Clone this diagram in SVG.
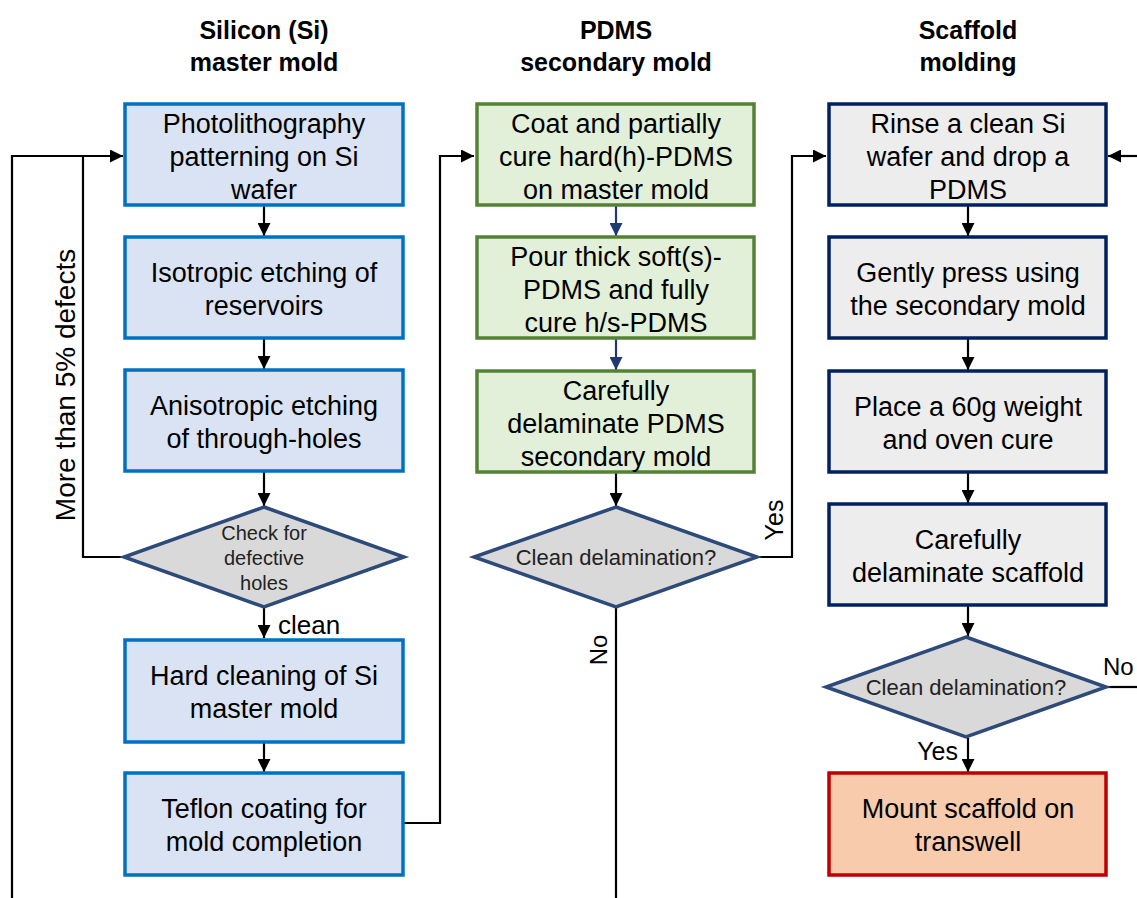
<svg xmlns="http://www.w3.org/2000/svg" width="1137" height="898" viewBox="0 0 1137 898">
  <style>
    text { font-family: "Liberation Sans", Arial, sans-serif; fill: #000; }
    .title { font-size: 25px; font-weight: bold; text-anchor: middle; }
    .lbl { font-size: 27px; text-anchor: middle; }
    .dtxt { font-size: 22px; text-anchor: middle; fill: #222; }
    .dsmall { font-size: 20px; text-anchor: middle; fill: #222; }
    .edge { font-size: 25px; }
    .si { fill: #DAE3F3; stroke: #0070C0; stroke-width: 3.5; }
    .pdms { fill: #E2F0D9; stroke: #548235; stroke-width: 3.5; }
    .scf { fill: #EDEDED; stroke: #002060; stroke-width: 3.5; }
    .end { fill: #F8CBAD; stroke: #C00000; stroke-width: 3.5; }
    .dia { fill: #D9D9D9; stroke: #2E4A7A; stroke-width: 3.5; }
    .conn { fill: none; stroke: #000; stroke-width: 2.2; }
    .conn-navy { fill: none; stroke: #1F3A73; stroke-width: 2.2; }
  </style>
  <defs>
    <marker id="arrow" viewBox="0 0 12 12" refX="12" refY="6" markerWidth="13" markerHeight="13" markerUnits="userSpaceOnUse" orient="auto">
      <path d="M0,0 L12,6 L0,12 Z" fill="#000"/>
    </marker>
    <marker id="arrow-navy" viewBox="0 0 12 12" refX="12" refY="6" markerWidth="13" markerHeight="13" markerUnits="userSpaceOnUse" orient="auto">
      <path d="M0,0 L12,6 L0,12 Z" fill="#1F3A73"/>
    </marker>
  </defs>

  <!-- column headings -->
  <g id="headings">
    <text class="title" x="264" y="39">Silicon (Si)</text>
    <text class="title" x="264" y="71">master mold</text>
    <text class="title" x="616" y="39">PDMS</text>
    <text class="title" x="616" y="71">secondary mold</text>
    <text class="title" x="968" y="39">Scaffold</text>
    <text class="title" x="968" y="71">molding</text>
  </g>

  <!-- connectors -->
  <g id="connectors">
    <!-- column 1 -->
    <line class="conn" x1="264" y1="206" x2="264" y2="236" marker-end="url(#arrow)"/>
    <line class="conn" x1="264" y1="339" x2="264" y2="369" marker-end="url(#arrow)"/>
    <line class="conn" x1="264" y1="472" x2="264" y2="506" marker-end="url(#arrow)"/>
    <line class="conn" x1="264" y1="608" x2="264" y2="638" marker-end="url(#arrow)"/>
    <line class="conn" x1="264" y1="743" x2="264" y2="772" marker-end="url(#arrow)"/>
    <polyline class="conn" points="12,898 12,156 123,156" marker-end="url(#arrow)"/>
    <polyline class="conn" points="124,557 83,557 83,156"/>
    <!-- column 1 to column 2 -->
    <polyline class="conn" points="404,823 440,823 440,156 474,156" marker-end="url(#arrow)"/>
    <!-- column 2 -->
    <line class="conn-navy" x1="616" y1="206" x2="616" y2="236" marker-end="url(#arrow-navy)"/>
    <line class="conn-navy" x1="616" y1="339" x2="616" y2="370" marker-end="url(#arrow-navy)"/>
    <line class="conn" x1="616" y1="473" x2="616" y2="506" marker-end="url(#arrow)"/>
    <line class="conn" x1="616" y1="608" x2="616" y2="898"/>
    <!-- column 2 to column 3 -->
    <polyline class="conn" points="758,557 792,557 792,156 826,156" marker-end="url(#arrow)"/>
    <!-- column 3 -->
    <line class="conn" x1="1137" y1="156" x2="1108" y2="156" marker-end="url(#arrow)"/>
    <line class="conn" x1="968" y1="206" x2="968" y2="236" marker-end="url(#arrow)"/>
    <line class="conn" x1="968" y1="339" x2="968" y2="370" marker-end="url(#arrow)"/>
    <line class="conn" x1="968" y1="473" x2="968" y2="503" marker-end="url(#arrow)"/>
    <line class="conn" x1="968" y1="606" x2="968" y2="636" marker-end="url(#arrow)"/>
    <line class="conn" x1="968" y1="738" x2="968" y2="772" marker-end="url(#arrow)"/>
    <line class="conn" x1="1107" y1="687" x2="1137" y2="687"/>
    <!-- edge labels -->
    <text class="edge" x="75" y="385" text-anchor="middle" style="font-size:28px" transform="rotate(-90 75 385)">More than 5% defects</text>
    <text class="edge" x="278" y="634" style="font-size:26px">clean</text>
    <text class="edge" x="783" y="520" text-anchor="middle" transform="rotate(-90 783 520)">Yes</text>
    <text class="edge" x="607" y="650" text-anchor="middle" style="font-size:24px" transform="rotate(-90 607 650)">No</text>
    <text class="edge" x="1103" y="675" style="font-size:24px">No</text>
    <text class="edge" x="958" y="760" text-anchor="end">Yes</text>
  </g>

  <!-- column 1: silicon master mold -->
  <g id="si-photolithography">
    <rect class="si" x="125" y="104" width="278" height="101"/>
    <text class="lbl" x="264" y="133">Photolithography</text>
    <text class="lbl" x="264" y="166">patterning on Si</text>
    <text class="lbl" x="264" y="199">wafer</text>
  </g>
  <g id="si-isotropic">
    <rect class="si" x="125" y="237" width="278" height="101"/>
    <text class="lbl" x="264" y="282">Isotropic etching of</text>
    <text class="lbl" x="264" y="315">reservoirs</text>
  </g>
  <g id="si-anisotropic">
    <rect class="si" x="125" y="370" width="278" height="101"/>
    <text class="lbl" x="264" y="415">Anisotropic etching</text>
    <text class="lbl" x="264" y="448">of through-holes</text>
  </g>
  <g id="si-check">
    <polygon class="dia" points="264,507 404,557 264,607 124,557"/>
    <text class="dsmall" x="264" y="540">Check for</text>
    <text class="dsmall" x="264" y="565">defective</text>
    <text class="dsmall" x="264" y="590">holes</text>
  </g>
  <g id="si-hard-clean">
    <rect class="si" x="125" y="640" width="278" height="102"/>
    <text class="lbl" x="264" y="685">Hard cleaning of Si</text>
    <text class="lbl" x="264" y="718">master mold</text>
  </g>
  <g id="si-teflon">
    <rect class="si" x="125" y="773" width="278" height="102"/>
    <text class="lbl" x="264" y="818">Teflon coating for</text>
    <text class="lbl" x="264" y="851">mold completion</text>
  </g>

  <!-- column 2: PDMS secondary mold -->
  <g id="pdms-coat">
    <rect class="pdms" x="477" y="104" width="277" height="101"/>
    <text class="lbl" x="616" y="133">Coat and partially</text>
    <text class="lbl" x="616" y="166">cure hard(h)-PDMS</text>
    <text class="lbl" x="616" y="199">on master mold</text>
  </g>
  <g id="pdms-pour">
    <rect class="pdms" x="477" y="237" width="277" height="101"/>
    <text class="lbl" x="616" y="266">Pour thick soft(s)-</text>
    <text class="lbl" x="616" y="299">PDMS and fully</text>
    <text class="lbl" x="616" y="332">cure h/s-PDMS</text>
  </g>
  <g id="pdms-delaminate">
    <rect class="pdms" x="477" y="371" width="277" height="101"/>
    <text class="lbl" x="616" y="400">Carefully</text>
    <text class="lbl" x="616" y="433">delaminate PDMS</text>
    <text class="lbl" x="616" y="466">secondary mold</text>
  </g>
  <g id="pdms-check">
    <polygon class="dia" points="616,507 757,557 616,607 474,557"/>
    <text class="dtxt" x="616" y="565">Clean delamination?</text>
  </g>

  <!-- column 3: scaffold molding -->
  <g id="scf-rinse">
    <rect class="scf" x="829" y="104" width="277" height="101"/>
    <text class="lbl" x="968" y="133">Rinse a clean Si</text>
    <text class="lbl" x="968" y="166">wafer and drop a</text>
    <text class="lbl" x="968" y="199">PDMS</text>
  </g>
  <g id="scf-press">
    <rect class="scf" x="829" y="237" width="277" height="101"/>
    <text class="lbl" x="968" y="282">Gently press using</text>
    <text class="lbl" x="968" y="315">the secondary mold</text>
  </g>
  <g id="scf-cure">
    <rect class="scf" x="829" y="371" width="277" height="101"/>
    <text class="lbl" x="968" y="416">Place a 60g weight</text>
    <text class="lbl" x="968" y="449">and oven cure</text>
  </g>
  <g id="scf-delaminate">
    <rect class="scf" x="829" y="504" width="277" height="101"/>
    <text class="lbl" x="968" y="549">Carefully</text>
    <text class="lbl" x="968" y="582">delaminate scaffold</text>
  </g>
  <g id="scf-check">
    <polygon class="dia" points="966,637 1106,687 966,737 826,687"/>
    <text class="dtxt" x="966" y="695">Clean delamination?</text>
  </g>
  <g id="scf-mount">
    <rect class="end" x="829" y="773" width="277" height="102"/>
    <text class="lbl" x="968" y="818">Mount scaffold on</text>
    <text class="lbl" x="968" y="851">transwell</text>
  </g>
</svg>
